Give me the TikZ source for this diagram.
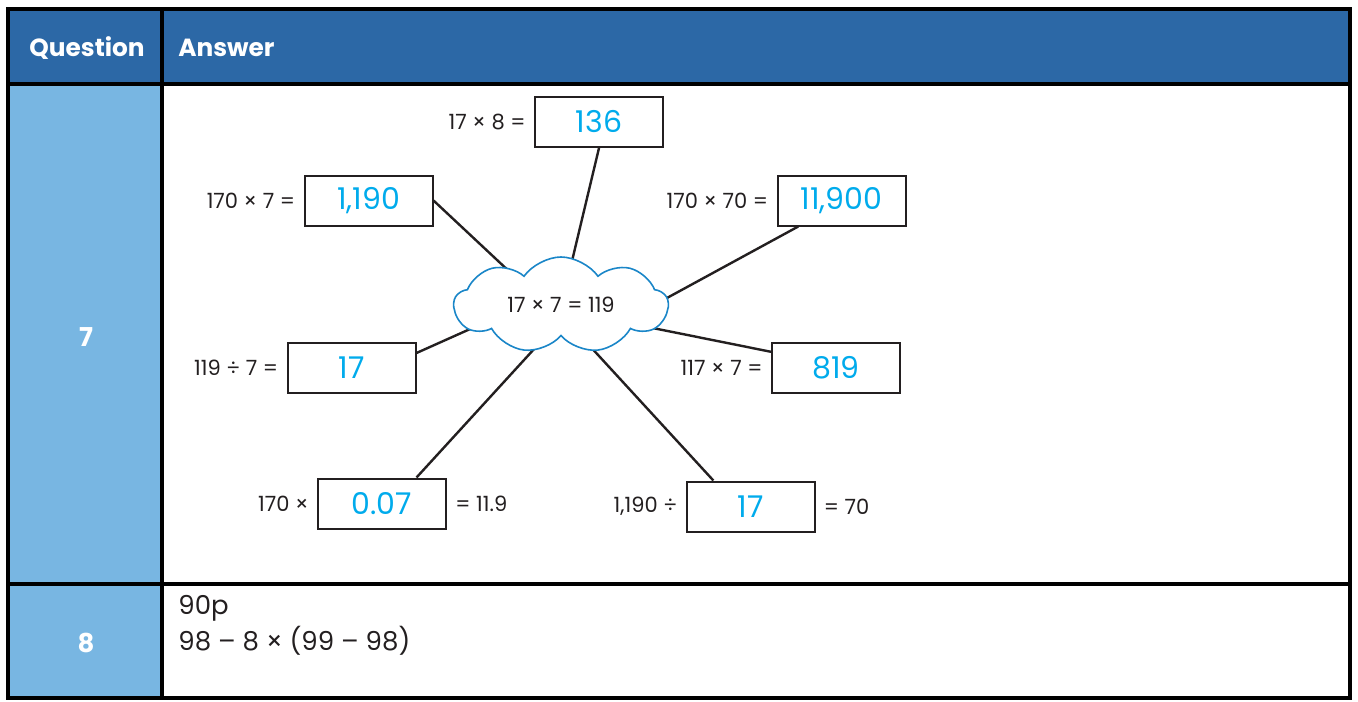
\documentclass[tikz,border=0pt]{standalone}
\usepackage{fontspec}
\setmainfont{Poppins}
\usetikzlibrary{positioning,shapes.symbols,backgrounds}
\definecolor{hdblue}{RGB}{44,104,166}
\definecolor{qblue}{RGB}{120,182,226}
\definecolor{ansblue}{RGB}{0,171,236}
\definecolor{cloudblue}{RGB}{26,134,200}
\definecolor{ink}{RGB}{35,31,32}
\tikzset{
  ans/.style={draw=ink,line width=1pt,minimum width=64pt,minimum height=25pt,inner sep=0pt,text=ansblue,font=\fontsize{15}{16}\selectfont},
  lbl/.style={inner sep=0pt,text=ink,font=\fontsize{10.5}{12}\selectfont},
  link/.style={draw=ink,line width=1.2pt,shorten >=-6pt},
  hd/.style={text=white,font=\bfseries\fontsize{12.4}{14}\selectfont,anchor=west,inner sep=0pt},
  qnum/.style={text=white,font=\bfseries\fontsize{13}{14}\selectfont}
}
\begin{document}
\begin{tikzpicture}[x=0.5pt,y=-0.5pt]
\useasboundingbox (0,0) rectangle (1358,701);
\fill[hdblue] (8,9) rectangle (1350,84);
\fill[qblue] (8,84) rectangle (162,698);
\node[hd] (qh) at (29,48) {Question};
\node[hd] (ah) at (178,48) {Answer};
\node[qnum] (q7) at (86,337) {7};
\node[qnum] (q8) at (86,643) {8};

\node[cloud,cloud puffs=9,cloud puff arc=110,cloud ignores aspect,minimum width=107pt,minimum height=48pt,
  draw=cloudblue,fill=white,line width=0.8pt,inner sep=0pt,text=ink,font=\fontsize{10.5}{12}\selectfont] (c) at (561,305) {17 × 7 = 119};

\foreach \n/\p/\v in {b136/{599,122}/136, b1190/{368.5,200.5}/{1,190}, b11900/{841.5,200.5}/{11,900},
  b17a/{351.5,368}/17, b819/{836,368}/819, b007/{382,503.5}/0.07, b17b/{750.5,506.5}/17}
  \node[ans] (\n) at (\p) {\v};

\foreach \n/\t in {b136/{17 × 8 =}, b1190/{170 × 7 =}, b11900/{170 × 70 =}, b17a/{119 ÷ 7 =},
  b819/{117 × 7 =}, b007/{170 ×}, b17b/{1,190 ÷}}
  \node[lbl,left=4pt of \n] (l\n) {\t};
\node[lbl,right=4pt of b007] (rb007) {= 11.9};
\node[lbl,right=4pt of b17b] (rb17b) {= 70};

\node[anchor=north west,align=left,inner sep=0pt,text=ink,font=\fontsize{13}{18}\selectfont] (r8) at (178,595) {90p\\98 – 8 × (99 – 98)};

\begin{scope}[on background layer]
\fill[white] (0,0) rectangle (1358,701);
\foreach \a/\b in {b136.south/76, b1190.east/146, b11900.211/4, b17a.13/195,
  b819.166/346, b007.37/238, b17b.145/306}
  \draw[link] (\a) -- (c.\b);
\end{scope}

\draw[line width=1.6pt] (8,9) rectangle (1350,698) (8,84) -- (1350,84) (8,584) -- (1350,584) (162,9) -- (162,698);
\end{tikzpicture}
\end{document}
